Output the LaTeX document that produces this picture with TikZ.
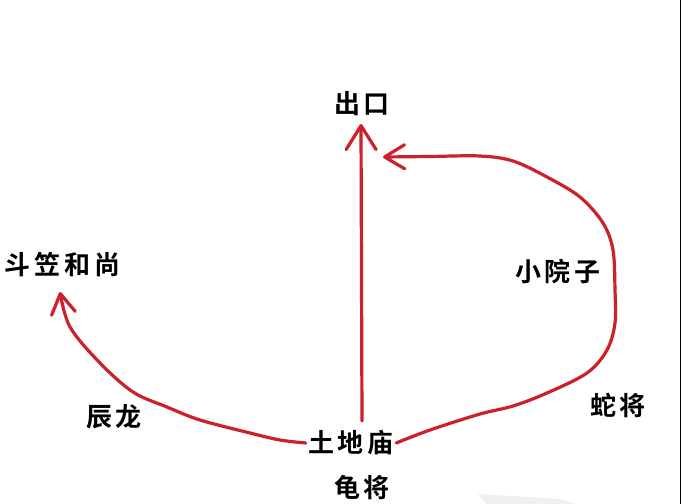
\documentclass[tikz,border=0pt]{standalone}
\usepackage{fontspec}
\newfontfamily\cjk{Noto Sans CJK SC}[BoldFont={* Bold}]
\usetikzlibrary{arrows.meta}
\definecolor{pen}{RGB}{204,32,42}
\newcommand\gapc{\hspace{4pt}}
\tikzset{
  lab/.style={inner sep=2pt, font=\cjk\bfseries\fontsize{26pt}{26pt}\selectfont, text=black},
  redline/.style={draw=pen, line width=3.2pt, line cap=round, line join=round},
  barb/.style={-{Straight Barb[length=24pt, width=30pt, round]}},
  smallbarb/.style={-{Straight Barb[length=20pt, width=24pt, round]}}
}
\begin{document}
\begin{tikzpicture}[x=1pt, y=-1pt]
\useasboundingbox (0,0) rectangle (681,504);
\fill[white] (0,0) rectangle (681,504);
% faint smudge and right edge line
\fill[gray!12] (478,494) -- (560,499) -- (576,504) -- (486,504) -- cycle;
\draw[line width=1.5pt, black] (680.25,0) -- (680.25,504);
% labels
\node[lab] (ck) at (362,104) {出\gapc 口};
\node[lab] (dlhs) at (63,265) {斗\gapc 笠\gapc 和\gapc 尚};
\node[lab] (xyz) at (558,271) {小\gapc 院\gapc 子};
\node[lab] (sj) at (618,405) {蛇\gapc 将};
\node[lab] (cl) at (114,417) {辰\gapc 龙};
\node[lab] (tdm) at (351,443) {土\gapc 地\gapc 庙};
\node[lab] (gj) at (362,488) {龟\gapc 将};
% arrow end points
\coordinate (t1) at (60,292);
\coordinate (t2) at (383,157);
\coordinate (v0) at (362,421);
\coordinate (v1) at (361,124);
% vertical arrow
\draw[redline, barb] (v0) -- (v1);
% right loop
\draw[redline, smallbarb] plot[smooth, tension=0.55] coordinates {
  (tdm.east) (430,430) (480,414) (513,406) (547,393) (587,373) (607,350)
  (615,323) (615,290) (613,250) (603,223) (580,197) (547,177) (513,161)
  (480,156) (430,156.5) (t2)};
% left curve
\draw[redline, smallbarb] plot[smooth, tension=0.55] coordinates {
  (tdm.west) (280,440) (250,433) (200,420) (167,407) (133,392)
  (100,363) (70,327) (t1)};
\end{tikzpicture}
\end{document}
